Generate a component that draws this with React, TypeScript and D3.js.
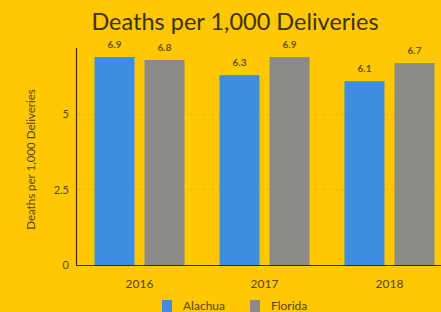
import { useEffect, useRef } from "react";
import * as d3 from "d3";

const years = ["2016", "2017", "2018"];
const seriesNames = ["Alachua", "Florida"];
const alachua = [6.9, 6.3, 6.1];
const florida = [6.8, 6.9, 6.7];
const yTicks = [0, 2.5, 5];

const COLORS: Record<string, string> = { Alachua: "#3d8ee2", Florida: "#8c8a86" };
const BG = "#ffc800";
const FONT = "Lato, 'Open Sans', sans-serif";

export default function App() {
  const ref = useRef<SVGSVGElement | null>(null);

  useEffect(() => {
    const W = 441;
    const H = 312;
    const svg = d3.select(ref.current);
    svg.selectAll("*").remove();
    svg.attr("width", W).attr("height", H);

    svg.append("rect").attr("width", W).attr("height", H).attr("fill", BG);

    // plot area runs off the right edge, like the original
    const x0 = d3.scaleBand<string>().domain(years).range([77, 452]).paddingInner(0.28).paddingOuter(0.14);
    const x1 = d3.scaleBand<string>().domain(seriesNames).range([0, x0.bandwidth()]).paddingInner(0.2);
    const y = d3.scaleLinear().domain([0, 7.2]).range([265, 48]);

    const rows = years.map((yr, i) => ({ year: yr, Alachua: alachua[i], Florida: florida[i] }));

    svg.append("text")
      .attr("x", 235)
      .attr("y", 30)
      .attr("text-anchor", "middle")
      .attr("font-family", FONT)
      .attr("font-size", 23.5)
      .attr("fill", "#3f3000")
      .text("Deaths per 1,000 Deliveries");

    // grid
    svg.append("g")
      .selectAll("line")
      .data(yTicks.filter((t) => t > 0))
      .join("line")
      .attr("x1", 77)
      .attr("x2", W)
      .attr("y1", (d) => y(d))
      .attr("y2", (d) => y(d))
      .attr("stroke", "#e8b800")
      .attr("stroke-width", 1)
      .attr("stroke-dasharray", "3,4");

    const groups = svg.append("g")
      .selectAll("g")
      .data(rows)
      .join("g")
      .attr("transform", (d) => `translate(${x0(d.year)},0)`);

    groups.selectAll("rect")
      .data((d) => seriesNames.map((k) => ({ key: k, value: (d as any)[k] as number })))
      .join("rect")
      .attr("x", (d) => x1(d.key)!)
      .attr("y", (d) => y(d.value))
      .attr("width", x1.bandwidth())
      .attr("height", (d) => y(0) - y(d.value))
      .attr("fill", (d) => COLORS[d.key]);

    groups.selectAll("text")
      .data((d) => seriesNames.map((k) => ({ key: k, value: (d as any)[k] as number })))
      .join("text")
      .attr("x", (d) => x1(d.key)! + x1.bandwidth() / 2)
      .attr("y", (d) => y(d.value) - 9)
      .attr("text-anchor", "middle")
      .attr("font-family", FONT)
      .attr("font-size", 10)
      .attr("font-weight", "bold")
      .attr("fill", "#6b5000")
      .text((d) => d3.format(".1f")(d.value));

    // axes lines
    svg.append("line")
      .attr("x1", 76.5).attr("x2", 76.5)
      .attr("y1", y.range()[1]).attr("y2", y(0))
      .attr("stroke", "#3a2b00").attr("stroke-width", 1.2);
    svg.append("line")
      .attr("x1", 76).attr("x2", W)
      .attr("y1", y(0) + 0.5).attr("y2", y(0) + 0.5)
      .attr("stroke", "#3a2b00").attr("stroke-width", 1.2);

    svg.append("g")
      .selectAll("text")
      .data(yTicks)
      .join("text")
      .attr("x", 69)
      .attr("y", (d) => y(d))
      .attr("dy", "0.35em")
      .attr("text-anchor", "end")
      .attr("font-family", FONT)
      .attr("font-size", 11)
      .attr("fill", "#5a4400")
      .text((d) => String(d));

    svg.append("text")
      .attr("transform", `translate(31,${(y(0) + y.range()[1]) / 2 + 3}) rotate(-90)`)
      .attr("text-anchor", "middle")
      .attr("dy", "0.35em")
      .attr("font-family", FONT)
      .attr("font-size", 11.5)
      .attr("fill", "#5a4400")
      .text("Deaths per 1,000 Deliveries");

    svg.append("g")
      .selectAll("text")
      .data(years)
      .join("text")
      .attr("x", (d) => x0(d)! + x0.bandwidth() / 2)
      .attr("y", 284)
      .attr("dy", "0.35em")
      .attr("text-anchor", "middle")
      .attr("font-family", FONT)
      .attr("font-size", 12)
      .attr("fill", "#5a4400")
      .text((d) => d);

    // legend
    const legendX = [162, 250];
    const legend = svg.append("g")
      .selectAll("g")
      .data(seriesNames)
      .join("g")
      .attr("transform", (_, i) => `translate(${legendX[i]},300)`);
    legend.append("rect")
      .attr("width", 10).attr("height", 12)
      .attr("fill", (d) => COLORS[d]);
    legend.append("text")
      .attr("x", 21)
      .attr("y", 6)
      .attr("dy", "0.35em")
      .attr("font-family", FONT)
      .attr("font-size", 12)
      .attr("fill", "#5a4400")
      .text((d) => d);
  }, []);

  return (
    <div style={{ position: "absolute", left: 0, top: 0 }}>
      <svg ref={ref} style={{ display: "block" }} />
    </div>
  );
}
